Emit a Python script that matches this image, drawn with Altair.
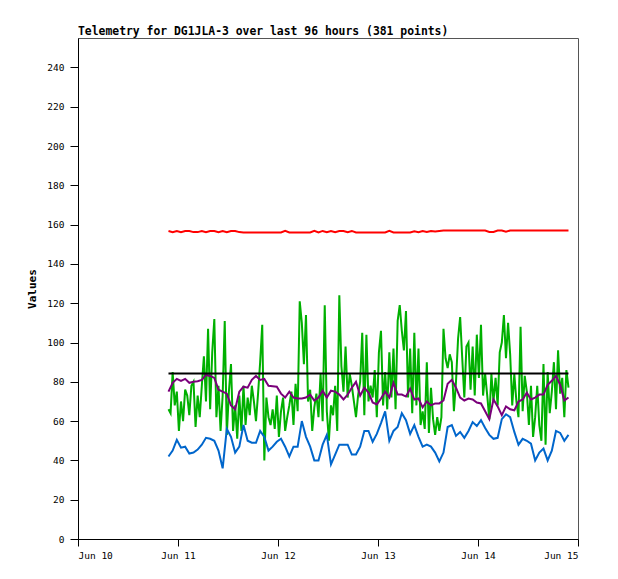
import altair as alt
import pandas as pd

TITLE = "Telemetry for DG1JLA-3 over last 96 hours (381 points)"
START = "2024-06-10T21:43:00"
X_TICK_DAYS = [10, 11, 12, 13, 14, 15]
Y_TICKS = [0, 20, 40, 60, 80, 100, 120, 140, 160, 180, 200, 220, 240]

# hourly samples (hour 0 .. 96)
blue = [42, 45, 50.5, 46.5, 47, 43.5, 44, 45.5, 48, 51.5, 51, 50, 45, 36, 56, 52, 44, 47, 58, 50, 49, 49, 55, 52, 45,
        47, 49.5, 51, 47, 42, 47, 47, 60, 52, 47, 40, 40, 48, 53, 38, 43, 48, 48, 48, 43, 43, 47, 55, 55,
        49.5, 53.5, 59, 65, 50, 55, 57, 64, 60.5, 53.5, 58, 52, 47, 48, 47, 44, 39.5, 44, 57, 58, 52.5, 54.5, 51.5, 55,
        59.5, 57.5, 60.5, 56.5, 53, 51, 51.5, 61, 63.5, 62, 54.5, 48, 51, 50, 48.5, 40, 44, 46, 40, 45, 55, 54, 50, 53]

purple = [75, 79.5, 81.5, 80.5, 81.5, 79.5, 80, 80.3, 81, 83.5, 83, 82, 76, 75, 74, 68, 66, 75, 77.5, 77, 81, 83, 81, 81.5, 78,
          77.8, 77.5, 74, 72, 75, 72, 71.5, 71.5, 72, 73.5, 70.5, 72, 75.5, 72, 75.5, 75, 73.5, 71, 73.5, 77, 80, 73, 77, 74.5,
          69.5, 68.5, 71.5, 75, 72, 79.5, 73.5, 73.5, 72.5, 76.5, 71, 71.5, 67, 70, 68, 69, 69, 70.5, 79, 81, 77, 72, 70.5, 71.5,
          71, 69.5, 69, 65, 61, 71, 67.5, 63, 67.5, 66, 65.5, 70, 71, 74.5, 71, 72, 73.5, 73.5, 78.5, 80.5, 83, 78.5, 70.5, 72]

red = [156.8, 156.2, 156.8, 156.2, 156.8, 156.8, 156.2, 156.2, 156.8, 156.2, 156.8, 156.8, 156.2, 156.8, 156.2, 156.8, 156.8, 156.2,
       156.0, 156.0, 156.0, 156.0, 156.0, 156.0, 156.0, 156.0, 156.0, 156.0,
       156.8,
       156.0, 156.0, 156.0, 156.0, 156.0, 156.0,
       156.8,
       156.0,
       156.8, 156.2, 156.8, 156.2, 156.8, 156.8, 156.2, 156.8,
       156.0, 156.0, 156.0, 156.0, 156.0, 156.0, 156.0, 156.0,
       156.8,
       156.0, 156.0, 156.0, 156.0, 156.0,
       156.6, 156.2, 156.8, 156.3, 156.8, 156.5, 156.8,
       157.0, 157.0, 157.0, 157.0, 157.0, 157.0, 157.0, 157.0, 157.0, 157.0, 157.0,
       156.3, 156.3, 157.0, 157.0, 156.4, 157.0,
       157.0, 157.0, 157.0, 157.0, 157.0, 157.0, 157.0, 157.0, 157.0, 157.0, 157.0, 157.0, 157.0, 157.0]

black_hours = [0, 96]
black = [84.3, 84.3]

# half-hourly samples (0 .. 96 h)
green = [66, 64, 85, 68, 75, 55, 70, 60, 76, 73, 63, 78, 80, 57, 73, 62, 78, 93, 70, 107, 66, 95, 112, 62, 78,
         55, 73, 111, 53, 75, 89, 55, 68, 51, 73, 55, 78, 58, 72, 63, 78, 70, 60, 74, 90, 109, 40, 72, 62,
         58, 66, 56, 73, 52, 65, 72, 55, 62, 68, 75, 58, 79, 65, 121, 110, 89, 114, 70, 76, 55, 67, 74, 62,
         84, 60, 119, 65, 50, 68, 63, 78, 55, 124, 88, 75, 98, 72, 84, 78, 70, 62, 73, 80, 105, 63, 104, 70,
         78, 72, 86, 62, 95, 106, 68, 85, 66, 95, 72, 97, 66, 111, 119, 106, 96, 116, 72, 97, 64, 105, 68, 97,
         58, 65, 56, 90, 54, 77, 61, 53, 62, 55, 62, 107, 92, 87, 94, 90, 65, 80, 102, 113, 92, 72, 98, 100,
         76, 98, 73, 104, 82, 109, 73, 84, 73, 61, 84, 70, 82, 68, 95, 100, 114, 92, 110, 94, 68, 84, 70, 62,
         108, 65, 83, 75, 58, 78, 52, 62, 78, 58, 50, 89, 48, 85, 64, 75, 90, 66, 96, 74, 82, 62, 86, 77]


def frame(hours, values):
    t0 = pd.Timestamp(START)
    times = [(t0 + pd.Timedelta(hours=h)).strftime("%Y-%m-%dT%H:%M:%S") for h in hours]
    return pd.DataFrame({"time": times, "value": values})


hourly = list(range(len(blue)))
half_hourly = [i * 0.5 for i in range(len(green))]

x_enc = alt.X(
    "time:T",
    scale=alt.Scale(domain=[alt.DateTime(year=2024, month=6, date=X_TICK_DAYS[0]),
                            alt.DateTime(year=2024, month=6, date=X_TICK_DAYS[-1])]),
    axis=alt.Axis(values=[alt.DateTime(year=2024, month=6, date=d) for d in X_TICK_DAYS],
                  format="%b %d", title=None, tickSize=7, labelPadding=4),
)
y_enc = alt.Y(
    "value:Q",
    scale=alt.Scale(domain=[0, 255], nice=False, zero=True),
    axis=alt.Axis(values=Y_TICKS, title="Values", tickSize=8, labelPadding=6,
                  titlePadding=9, titleFont="DejaVu Sans Mono", titleFontSize=11,
                  titleFontWeight="bold", titleColor="black"),
)


def line(df, color):
    return alt.Chart(df).mark_line(color=color, strokeWidth=2, clip=True).encode(x=x_enc, y=y_enc)


chart = alt.layer(
    line(frame(half_hourly, green), "#00b000"),
    line(frame(hourly, blue), "#0066cc"),
    line(frame(hourly, purple), "#7a007a"),
    line(frame(hourly, red), "#ff0000"),
    line(frame(black_hours, black), "#000000"),
).properties(
    width=500,
    height=501,
    title=alt.TitleParams(TITLE, anchor="start", frame="group", font="DejaVu Sans Mono",
                          fontSize=11.4, fontWeight="bold", color="black", offset=1),
    autosize=alt.AutoSizeParams(type="none"),
    padding={"left": 70, "top": 30, "right": 30, "bottom": 30},
).configure_view(
    stroke="#555555", strokeWidth=1
).configure_axis(
    grid=False, domainColor="black", tickColor="black", labelColor="black",
    labelFont="DejaVu Sans Mono", labelFontSize=9.5, domainWidth=1, tickWidth=1,
)

chart.save("out.html", embed_options={"renderer": "svg", "actions": False})
